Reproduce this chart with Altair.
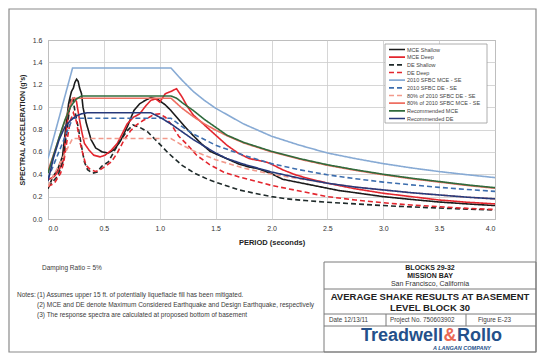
import altair as alt
import pandas as pd

# ---------------- data ----------------
names = ["MCE Shallow", "MCE Deep", "DE Shallow", "DE Deep",
         "2010 SFBC MCE - SE", "2010 SFBC DE - SE",
         "80% of 2010 SFBC DE - SE", "80% of 2010 SFBC MCE - SE",
         "Recommended MCE", "Recommended DE"]
colors = ["#1b1b1b", "#e3262e", "#1f2a2a", "#e3262e", "#87aad4", "#3d6eae",
          "#f29a8c", "#ee6f62", "#2f6b3c", "#27397a"]
dashes = [[1, 0], [1, 0], [5, 3], [5, 3], [1, 0], [5, 3], [5, 3], [1, 0], [1, 0], [1, 0]]

mce_shallow_T = [0, 0.04, 0.085, 0.13, 0.156, 0.184, 0.2, 0.21, 0.227, 0.24, 0.256, 0.27, 0.283, 0.3,
                 0.313, 0.342, 0.385, 0.427, 0.484, 0.541, 0.598, 0.655, 0.712, 0.769, 0.82, 0.87, 0.92,
                 0.98, 1.05, 1.1, 1.16, 1.22, 1.3, 1.37, 1.45, 1.54, 1.62, 1.71, 1.8, 1.88, 2.0, 2.1, 2.2,
                 2.35, 2.5, 2.6, 2.75, 3.0, 3.25, 3.5, 3.75, 4.0]
mce_shallow_Sa = [0.27, 0.37, 0.44, 0.56, 0.79, 1.03, 1.1, 1.14, 1.17, 1.22, 1.25, 1.23, 1.17, 1.12,
                  1.0, 0.86, 0.71, 0.635, 0.6, 0.59, 0.625, 0.71, 0.83, 0.97, 1.03, 1.06, 1.085,
                  1.07, 1.02, 0.97, 0.9, 0.83, 0.745, 0.675, 0.605, 0.565, 0.53, 0.49, 0.465, 0.45, 0.405, 0.355, 0.335,
                  0.305, 0.275, 0.255, 0.235, 0.2, 0.175, 0.152, 0.135, 0.12]

mce_deep_T = [0, 0.057, 0.1, 0.14, 0.156, 0.184, 0.21, 0.235, 0.255, 0.278, 0.3, 0.326, 0.368, 0.41,
              0.467, 0.51, 0.567, 0.62, 0.666, 0.708, 0.765, 0.82, 0.878, 0.92, 0.963, 1.0, 1.05, 1.1,
              1.15, 1.2, 1.25, 1.3, 1.4, 1.5, 1.6, 1.7, 1.8, 1.9, 1.95, 2.0, 2.1, 2.2, 2.3, 2.5, 2.75,
              3.0, 3.25, 3.5, 3.75, 4.0]
mce_deep_Sa = [0.35, 0.38, 0.44, 0.53, 0.73, 0.94, 1.05, 1.08, 1.05, 0.91, 0.79, 0.675, 0.615, 0.57,
               0.555, 0.57, 0.615, 0.675, 0.765, 0.85, 0.91, 0.94, 1.015, 1.06, 1.075, 1.045, 1.12, 1.14,
               1.165, 1.09, 1.0, 0.93, 0.84, 0.75, 0.66, 0.59, 0.54, 0.52, 0.51, 0.49, 0.44, 0.40, 0.37, 0.32, 0.27,
               0.23, 0.2, 0.17, 0.15, 0.135]

de_shallow_T = [0, 0.085, 0.13, 0.17, 0.2, 0.22, 0.24, 0.27, 0.3, 0.326, 0.354, 0.4, 0.44, 0.48, 0.54,
                0.6, 0.65, 0.71, 0.76, 0.82, 0.89, 0.97, 1.08, 1.2, 1.31, 1.43, 1.57, 1.71, 1.85, 2.0,
                2.14, 2.3, 2.5, 2.75, 3.0, 3.25, 3.5, 3.75, 4.0]
de_shallow_Sa = [0.29, 0.38, 0.5, 0.79, 1.06, 1.09, 0.97, 0.82, 0.65, 0.51, 0.44, 0.41, 0.42, 0.47, 0.51,
                 0.62, 0.705, 0.79, 0.84, 0.82, 0.78, 0.70, 0.586, 0.48, 0.41, 0.355, 0.305, 0.26, 0.23, 0.2,
                 0.18, 0.165, 0.15, 0.135, 0.12, 0.108, 0.098, 0.088, 0.08]

de_deep_T = [0, 0.057, 0.113, 0.14, 0.17, 0.2, 0.227, 0.255, 0.283, 0.31, 0.34, 0.38, 0.425, 0.467, 0.51,
             0.567, 0.62, 0.68, 0.74, 0.79, 0.85, 0.906, 0.95, 1.0, 1.05, 1.1, 1.17, 1.25, 1.33, 1.44,
             1.57, 1.71, 1.85, 2.0, 2.25, 2.5, 2.75, 3.0, 3.25, 3.5, 3.75, 4.0]
de_deep_Sa = [0.29, 0.32, 0.41, 0.5, 0.70, 0.88, 0.95, 0.87, 0.70, 0.59, 0.48, 0.44, 0.425, 0.44, 0.47,
              0.51, 0.59, 0.705, 0.79, 0.84, 0.88, 0.91, 0.935, 0.94, 0.91, 0.85, 0.74, 0.66, 0.57, 0.49,
              0.42, 0.375, 0.34, 0.3, 0.25, 0.2, 0.17, 0.145, 0.125, 0.11, 0.095, 0.085]

code_T = [0.0, 0.22, 1.1, 1.2, 1.3, 1.4, 1.5, 1.75, 2.0, 2.25, 2.5, 2.75, 3.0, 3.25, 3.5, 3.75, 4.0]
sfbc_mce_Sa = [0.54, 1.35, 1.35, 1.24, 1.14, 1.06, 0.99, 0.85, 0.74, 0.66, 0.59, 0.54, 0.495, 0.457, 0.424, 0.396, 0.37]
sfbc_de_Sa = [0.36, 0.90, 0.90, 0.825, 0.76, 0.71, 0.66, 0.57, 0.495, 0.44, 0.395, 0.36, 0.33, 0.305, 0.283, 0.264, 0.247]
sfbc80_de_Sa = [0.29, 0.72, 0.72, 0.66, 0.61, 0.57, 0.53, 0.455, 0.40, 0.36, 0.32, 0.285, 0.26, 0.235, 0.215, 0.195, 0.18]

sfbc80_mce_T = [0.0, 0.22, 1.1, 1.2, 1.3, 1.4, 1.5, 1.6, 1.75, 2.0, 2.25, 2.5, 2.75, 3.0, 3.25, 3.5, 3.75, 4.0]
sfbc80_mce_Sa = [0.43, 1.08, 1.08, 0.99, 0.915, 0.85, 0.795, 0.745, 0.68, 0.6, 0.535, 0.48, 0.435, 0.395, 0.36, 0.33, 0.30, 0.275]

rec_mce_T = [0, 0.05, 0.1, 0.15, 0.2, 0.25, 0.3, 1.1, 1.15, 1.2, 1.3, 1.4, 1.5, 1.6, 1.75, 2.0, 2.25,
             2.5, 2.75, 3.0, 3.25, 3.5, 3.75, 4.0]
rec_mce_Sa = [0.41, 0.57, 0.73, 0.88, 1.0, 1.07, 1.1, 1.1, 1.08, 1.04, 0.97, 0.89, 0.82, 0.75, 0.685, 0.605, 0.54,
              0.485, 0.44, 0.40, 0.365, 0.335, 0.305, 0.28]

rec_de_T = [0, 0.05, 0.1, 0.15, 0.2, 0.25, 0.3, 0.35, 0.92, 1.0, 1.1, 1.2, 1.3, 1.4, 1.5, 1.6, 1.75, 2.0,
            2.25, 2.5, 2.75, 3.0, 3.25, 3.5, 3.75, 4.0]
rec_de_Sa = [0.34, 0.55, 0.71, 0.82, 0.88, 0.92, 0.94, 0.95, 0.95, 0.91, 0.85, 0.78, 0.71, 0.65, 0.59, 0.54, 0.49, 0.42,
             0.365, 0.32, 0.285, 0.26, 0.235, 0.215, 0.195, 0.18]

x_ticks = [0.0, 0.5, 1.0, 1.5, 2.0, 2.5, 3.0, 3.5, 4.0]
y_ticks = [0.0, 0.2, 0.4, 0.6, 0.8, 1.0, 1.2, 1.4, 1.6]

series = [
    (names[0], mce_shallow_T, mce_shallow_Sa),
    (names[1], mce_deep_T, mce_deep_Sa),
    (names[2], de_shallow_T, de_shallow_Sa),
    (names[3], de_deep_T, de_deep_Sa),
    (names[4], code_T, sfbc_mce_Sa),
    (names[5], code_T, sfbc_de_Sa),
    (names[6], code_T, sfbc80_de_Sa),
    (names[7], sfbc80_mce_T, sfbc80_mce_Sa),
    (names[8], rec_mce_T, rec_mce_Sa),
    (names[9], rec_de_T, rec_de_Sa),
]
rows = []
for si, (nm, ts, vs) in enumerate(series):
    for i, (t, v) in enumerate(zip(ts, vs)):
        rows.append({"series": nm, "T": t, "Sa": v, "i": i, "si": si})
df = pd.DataFrame(rows)

# ---------------- layout helpers ----------------
FONT = "Liberation Sans"
W, H = 447, 179
OX, OY = 48, 40          # page position of plot origin
CANVAS_W, CANVAS_H = 529, 345


def px(X):
    return X - OX


def py(Y):
    return Y - OY


one = pd.DataFrame({"k": [0]})


def text(t, X, Y, size=6.5, weight="normal", align="left", color="#3a3a3a", style="normal", font=FONT):
    return alt.Chart(one).mark_text(
        fontSize=size, fontWeight=weight, align=align, baseline="middle",
        color=color, fontStyle=style, font=font
    ).encode(x=alt.value(px(X)), y=alt.value(py(Y)), text=alt.value(t))


def hline(X1, X2, Y, color="#8a8a8a", w=1):
    return alt.Chart(one).mark_rule(color=color, strokeWidth=w).encode(
        x=alt.value(px(X1)), x2=alt.value(px(X2)), y=alt.value(py(Y)))


def vline(X, Y1, Y2, color="#8a8a8a", w=1):
    return alt.Chart(one).mark_rule(color=color, strokeWidth=w).encode(
        x=alt.value(px(X)), y=alt.value(py(Y1)), y2=alt.value(py(Y2)))


def box(X1, Y1, X2, Y2, stroke="#8a8a8a", fill="white", fop=0.0, w=1):
    return alt.Chart(one).mark_rect(stroke=stroke, strokeWidth=w, fill=fill, fillOpacity=fop).encode(
        x=alt.value(px(X1)), x2=alt.value(px(X2)), y=alt.value(py(Y1)), y2=alt.value(py(Y2)))


color_scale = alt.Scale(domain=names, range=colors)
dash_scale = alt.Scale(domain=names, range=dashes)

lines = alt.Chart(df).mark_line(strokeWidth=1.6, clip=True).encode(
    x=alt.X("T:Q", scale=alt.Scale(domain=[0, 4], nice=False, zero=False),
            axis=alt.Axis(values=x_ticks, format=".1f", title="PERIOD (seconds)",
                          titleY=23, titleBaseline="middle", titleFontSize=7.5, titleFontWeight="bold")),
    y=alt.Y("Sa:Q", scale=alt.Scale(domain=[0, 1.6], nice=False),
            axis=alt.Axis(values=y_ticks, format=".1f", title="SPECTRAL ACCELERATION (g's)",
                          titleX=-26, titleY=H / 2, titleAngle=270, titleAlign="center",
                          titleBaseline="middle", titleFontSize=7, titleFontWeight="bold")),
    color=alt.Color("series:N", scale=color_scale, legend=None),
    strokeDash=alt.StrokeDash("series:N", scale=dash_scale, legend=None),
    detail="si:N",
    order="i:Q",
)

# legend (drawn from the same series scales)
leg_df = pd.DataFrame({"series": names})
leg_y = alt.Y("series:N", scale=alt.Scale(type="point", domain=names, range=[py(49.5), py(118.5)], padding=0),
              axis=None)
leg_box = box(385, 44, 487, 123, stroke="#9a9a9a", fill="white", fop=1.0, w=0.8)
leg_rules = alt.Chart(leg_df).mark_rule(strokeWidth=1.6).encode(
    x=alt.value(px(389)), x2=alt.value(px(405)), y=leg_y,
    color=alt.Color("series:N", scale=color_scale, legend=None),
    strokeDash=alt.StrokeDash("series:N", scale=dash_scale, legend=None))
leg_text = alt.Chart(leg_df).mark_text(align="left", baseline="middle", fontSize=5.5, font=FONT,
                                      color="#444").encode(
    x=alt.value(px(407)), y=leg_y, text="series:N")

# document frame + title block
TB_L, TB_R = 324, 536
FB = 352
deco = [
    box(9, 9, 536, FB, stroke="#8a8a8a", fop=0.0, w=1.2),
    box(TB_L, 262, TB_R, FB, stroke="#7a7a7a", fop=0.0, w=1),
    hline(TB_L, TB_R, 289, color="#7a7a7a"),
    hline(TB_L, TB_R, 314, color="#7a7a7a"),
    hline(TB_L, TB_R, 326, color="#7a7a7a"),
    vline(386, 314, 326, color="#7a7a7a"),
    vline(466, 314, 326, color="#7a7a7a"),
]
cx = (TB_L + TB_R) / 2
LOGO_FONT = "Liberation Sans"
texts = [
    text("Damping Ratio = 5%", 42, 268, size=6.5),
    text("Notes:", 17, 295, size=6.5),
    text("(1) Assumes upper 15 ft. of potentially liquefiacle fill has been mitigated.", 37, 295, size=6.5),
    text("(2) MCE and DE denote Maximum Considered Earthquake and  Design Earthquake, respectively", 37, 305, size=6.5),
    text("(3) The response spectra are calculated at proposed bottom of basement", 37, 315, size=6.5),
    text("BLOCKS 29-32", cx, 268, size=7, weight="bold", align="center", color="#222"),
    text("MISSION BAY", cx, 276, size=7, weight="bold", align="center", color="#222"),
    text("San Francisco, California", cx, 284, size=7, align="center", color="#333"),
    text("AVERAGE SHAKE RESULTS AT BASEMENT", cx, 296.5, size=9.5, weight="bold", align="center", color="#222"),
    text("LEVEL BLOCK 30", cx, 307.5, size=9.5, weight="bold", align="center", color="#222"),
    text("Date  12/13/11", 329, 320, size=6.3),
    text("Project No. 750603902", 390, 320, size=6.3),
    text("Figure E-23", 478, 320, size=6.3),
    text("Treadwell", 443, 336, size=18, weight="bold", align="right", color="#24508a", font=LOGO_FONT),
    text("&", 450, 336, size=18, weight="bold", align="center", color="#ea6a55", font=LOGO_FONT),
    text("Rollo", 457, 336, size=18, weight="bold", align="left", color="#24508a", font=LOGO_FONT),
    text("A LANGAN COMPANY", 462, 347.5, size=5.5, weight="bold", style="italic", align="center", color="#24508a"),
]

chart = alt.layer(
    *deco, lines, leg_box, leg_rules, leg_text, *texts
).resolve_scale(y="independent").properties(
    width=W, height=H,
    autosize=alt.AutoSizeParams(type="none"),
    padding={"left": OX - 8, "top": OY - 8, "right": CANVAS_W - (OX - 8) - W, "bottom": CANVAS_H - (OY - 8) - H},
    background="white",
).configure_view(stroke="#8a8a8a", strokeWidth=1).configure_axis(
    labelFont=FONT, titleFont=FONT, labelFontSize=7, labelColor="#333", titleColor="#222",
    ticks=False, domain=False, gridColor="#cbcbcb", gridWidth=0.8, labelPadding=5,
).configure_axisY(labelPadding=6)

chart.save("out.html", embed_options={"renderer": "svg", "actions": False})
